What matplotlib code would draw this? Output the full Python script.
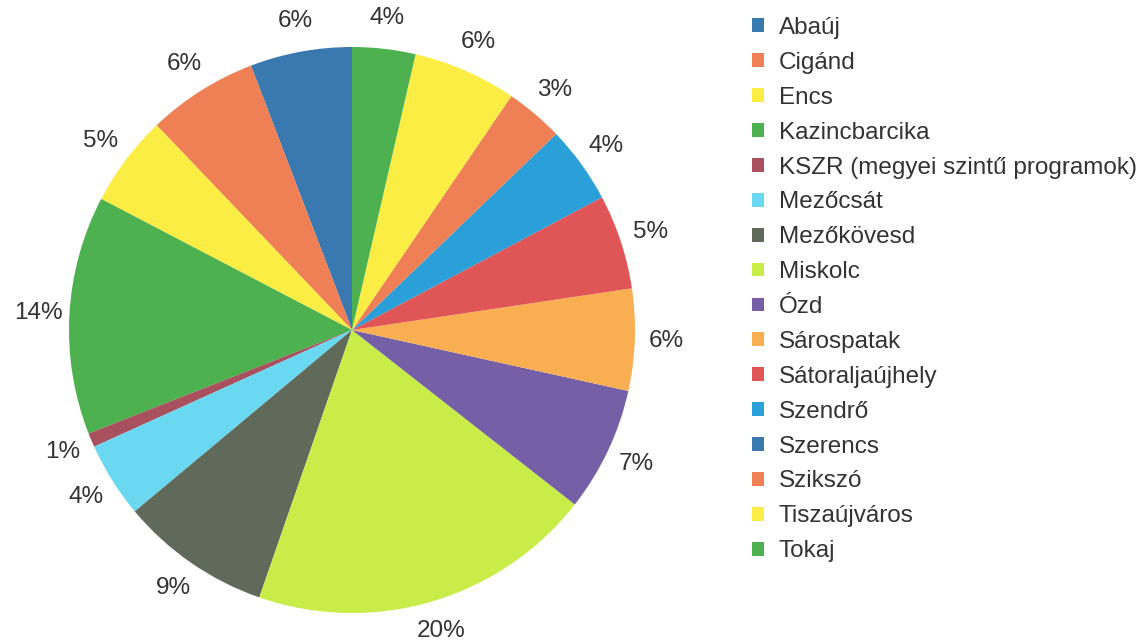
import matplotlib.pyplot as plt

# Share per district (%)
districts = ['Abaúj', 'Cigánd', 'Encs', 'Kazincbarcika', 'KSZR (megyei szintű programok)',
             'Mezőcsát', 'Mezőkövesd', 'Miskolc', 'Ózd', 'Sárospatak', 'Sátoraljaújhely',
             'Szendrő', 'Szerencs', 'Szikszó', 'Tiszaújváros', 'Tokaj']
shares = [5.8, 6.3, 5.2, 13.6, 0.8, 4.3, 8.6, 19.7, 7.1, 5.8, 5.4, 4.4, 0.0, 3.3, 5.9, 3.6]
colors = ['#3a78b0', '#ef7f55', '#fced45', '#4db14f', '#a8505e', '#6ad8f0', '#5f6a5a',
          '#c8ec48', '#7560a8', '#f9ae52', '#e05555', '#2a9fd8', '#3a78b0', '#ef7f55',
          '#fced45', '#4db14f']

plt.rcParams['font.family'] = ['Liberation Sans', 'DejaVu Sans']

fig = plt.figure(figsize=(11.43, 6.44), dpi=100)
ax = fig.add_axes([69 / 1143, 31 / 644, 566 / 1143, 566 / 644])


def pct(p):
    return '' if p < 0.05 else f'{p:.0f}%'


wedges, _, autotexts = ax.pie(shares, colors=colors, startangle=90, counterclock=True,
                              autopct=pct, pctdistance=1.11, labeldistance=None,
                              wedgeprops=dict(linewidth=0),
                              textprops=dict(fontsize=17.5, color='#333333'))
ax.set_xlim(-1, 1)
ax.set_ylim(-1, 1)

fig.legend(wedges, districts, loc='upper left', bbox_to_anchor=(752 / 1143, 1 - 17 / 644),
           frameon=False, fontsize=17.5, handlelength=0.5, handleheight=0.5,
           handletextpad=0.6, labelspacing=0.53, borderaxespad=0, borderpad=0,
           labelcolor='#333333')

fig.savefig('out.png', dpi=100)
